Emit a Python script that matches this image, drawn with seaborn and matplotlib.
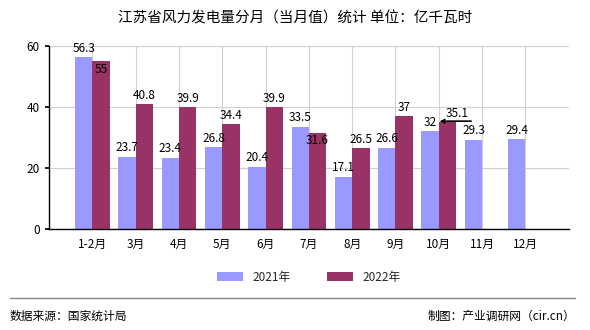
import matplotlib
matplotlib.use("Agg")
import matplotlib.pyplot as plt
import seaborn as sns
import pandas as pd
import numpy as np

months = ["1-2月", "3月", "4月", "5月", "6月", "7月", "8月", "9月", "10月", "11月", "12月"]
v2021 = [56.3, 23.7, 23.4, 26.8, 20.4, 33.5, 17.1, 26.6, 32, 29.3, 29.4]
v2022 = [55, 40.8, 39.9, 34.4, 39.9, 31.6, 26.5, 37, 35.1, np.nan, np.nan]
series = ["2021年", "2022年"]
colors = ["#9999FF", "#993366"]

sns.set_theme(style="white")
plt.rcParams['font.family'] = ['Noto Sans CJK SC', 'DejaVu Sans']

df = pd.DataFrame({
    "month": months * 2,
    "value": v2021 + v2022,
    "series": [series[0]] * len(months) + [series[1]] * len(months),
})

fig = plt.figure(figsize=(5.9, 3.3), dpi=100)
ax = fig.add_axes([0.083, 0.306, 0.881, 0.555])
sns.barplot(data=df, x="month", y="value", hue="series", order=months,
            hue_order=series, palette=colors, width=0.8, gap=0, ax=ax,
            saturation=1, legend=True, linewidth=0, edgecolor="none")

ax.set_xlim(-1, len(months))
ax.set_ylim(0, 60)
ax.set_yticks([0, 20, 40, 60])
ax.set_xticks(range(len(months)))
ax.set_xticklabels(months)
ax.set_xlabel("")
ax.set_ylabel("")
ax.grid(True, color="#d0d0d0", linewidth=0.8)
ax.set_axisbelow(True)
for s in ["top", "right"]:
    ax.spines[s].set_visible(False)
for s in ["left", "bottom"]:
    ax.spines[s].set_color("black")
    ax.spines[s].set_linewidth(1)
ax.tick_params(axis="both", labelsize=8.5, colors="black", length=3, direction="out")
ax.tick_params(axis="x", bottom=False)
ax.tick_params(axis="y", left=True)

def fmt(v):
    return ("%g" % v)

for i, v in enumerate(v2021):
    ax.text(i - 0.2, v + 0.8, fmt(v), ha="center", va="bottom", fontsize=8.5, color="black")
for i, v in enumerate(v2022):
    if np.isnan(v):
        continue
    if i in (0, 5):
        ax.text(i + 0.2, v - 0.6, fmt(v), ha="center", va="top", fontsize=8.5, color="black")
    elif i == 8:
        ax.annotate("", xy=(i + 0.02, v + 0.2), xytext=(i + 0.75, v + 0.2),
                    arrowprops=dict(arrowstyle="-|>", color="black", lw=0.9,
                                    shrinkA=0, shrinkB=0, mutation_scale=7))
        ax.plot([i + 0.2, i + 0.75], [v + 0.2, v + 0.2], color="#666666", lw=1.2)
        ax.text(i + 0.42, v + 0.5, fmt(v), ha="center", va="bottom", fontsize=8.5, color="black")
    else:
        ax.text(i + 0.2, v + 0.8, fmt(v), ha="center", va="bottom", fontsize=8.5, color="black")

leg = ax.legend(loc="upper center", bbox_to_anchor=(0.5, -0.17), ncol=2, frameon=False,
                fontsize=8.5, handlelength=2.2, handleheight=0.8, columnspacing=3)
for h in leg.legend_handles:
    h.set_edgecolor("none")

fig.text(0.5, 0.945, "江苏省风力发电量分月（当月值）统计 单位：亿千瓦时", ha="center", va="center",
         fontsize=10.5, color="black")
fig.add_artist(plt.Line2D([0.017, 0.975], [1 - 298 / 330, 1 - 298 / 330],
                          transform=fig.transFigure, color="#888888", linewidth=1))
fig.text(0.017, 1 - 316 / 330, "数据来源：国家统计局", ha="left", va="center", fontsize=8.5, color="black")
fig.text(0.975, 1 - 316 / 330, "制图：产业调研网（cir.cn）", ha="right", va="center", fontsize=8.5, color="black")

fig.savefig("out.png", dpi=100)
